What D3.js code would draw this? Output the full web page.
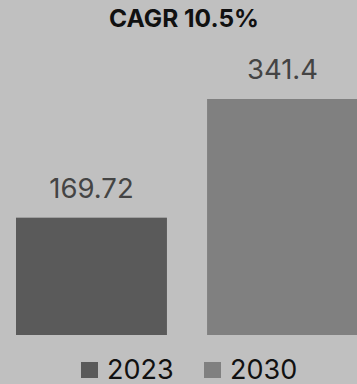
<!DOCTYPE html>
<html>
<head>
<meta charset="utf-8">
<script src="https://cdn.jsdelivr.net/npm/d3@7"></script>
<style>
  html, body { margin: 0; padding: 0; background: #c0c0c0; }
  svg { display: block; }
</style>
</head>
<body>
<svg id="chart" width="357" height="384"></svg>
<script>
// Market size by year
const years = ["2023", "2030"];
const values = [169.72, 341.4];
const colors = ["#5a5a5a", "#808080"];
const title = "CAGR 10.5%";

const W = 357, H = 384;
const svg = d3.select("#chart");

svg.append("rect").attr("width", W).attr("height", H).attr("fill", "#c0c0c0");

const x = d3.scaleBand()
  .domain(years)
  .range([16, 358])
  .paddingInner(0.21)
  .paddingOuter(0);

const y = d3.scaleLinear()
  .domain([0, d3.max(values)])
  .range([335, 99]);

const font = "Inter, 'Noto Sans', sans-serif";

svg.append("text")
  .attr("x", 184)
  .attr("y", 26.5)
  .attr("text-anchor", "middle")
  .attr("font-family", font)
  .attr("font-weight", 700)
  .attr("font-size", 24.5)
  .attr("fill", "#111")
  .text(title);

const data = years.map((yr, i) => ({ year: yr, value: values[i], color: colors[i] }));

svg.selectAll("rect.bar")
  .data(data)
  .join("rect")
  .attr("class", "bar")
  .attr("x", d => x(d.year))
  .attr("y", d => y(d.value))
  .attr("width", x.bandwidth())
  .attr("height", d => y(0) - y(d.value))
  .attr("fill", d => d.color);

svg.selectAll("text.val")
  .data(data)
  .join("text")
  .attr("class", "val")
  .attr("x", d => x(d.year) + x.bandwidth() / 2)
  .attr("y", d => y(d.value) - 20)
  .attr("text-anchor", "middle")
  .attr("font-family", font)
  .attr("font-size", 27.5)
  .attr("fill", "#444")
  .text(d => String(d.value));

// Legend
const legendX = [81, 204];
const lg = svg.selectAll("g.legend")
  .data(data)
  .join("g")
  .attr("class", "legend")
  .attr("transform", (d, i) => `translate(${legendX[i]},0)`);

lg.append("rect")
  .attr("x", 0)
  .attr("y", 362)
  .attr("width", 17)
  .attr("height", 16)
  .attr("fill", d => d.color);

lg.append("text")
  .attr("x", 26)
  .attr("y", 379)
  .attr("font-family", font)
  .attr("font-size", 27)
  .attr("fill", "#111")
  .text(d => d.year);
</script>
</body>
</html>
